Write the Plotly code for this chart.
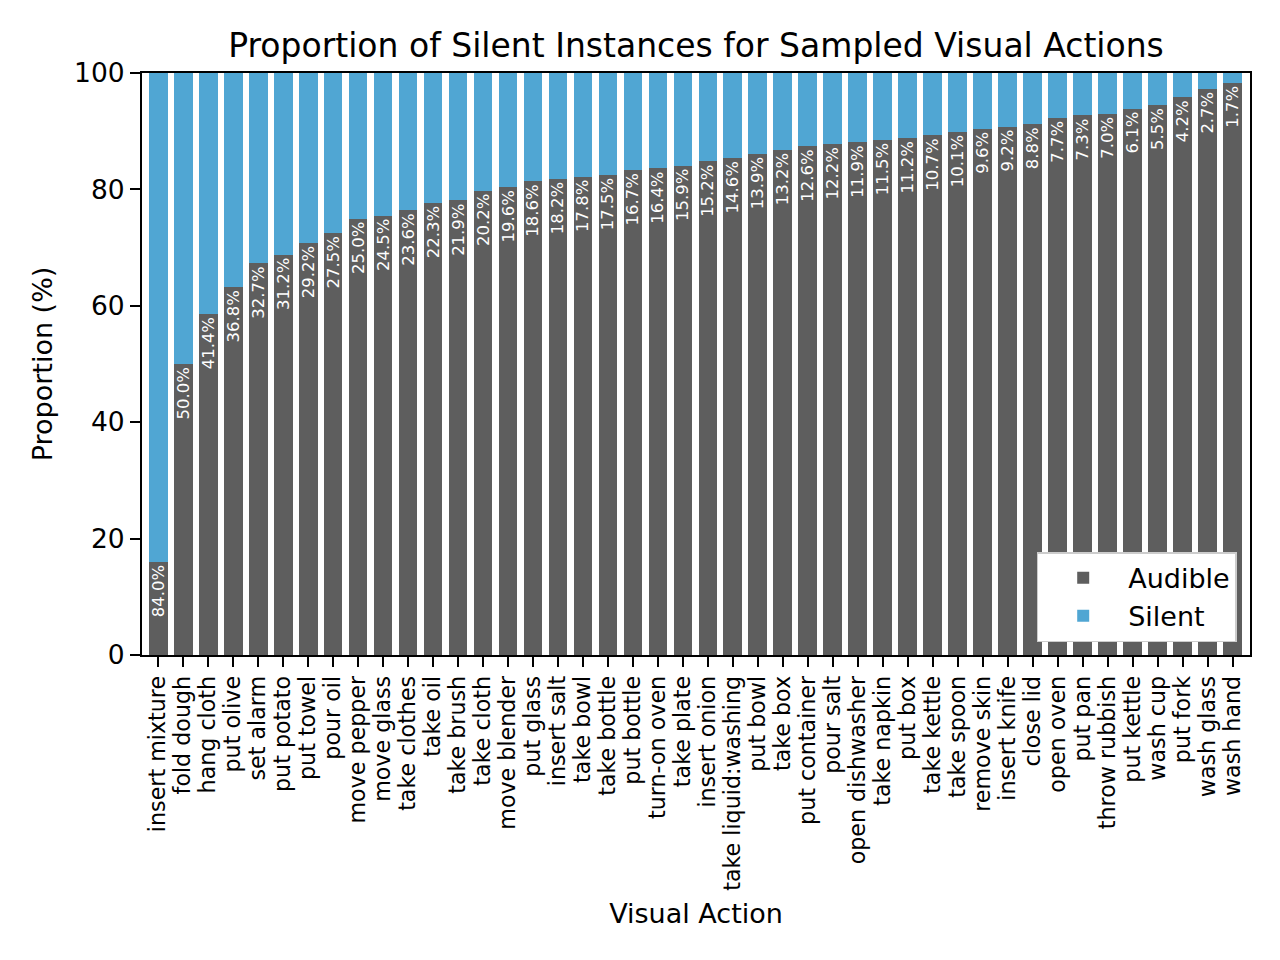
import plotly.graph_objects as go

actions = ["insert mixture", "fold dough", "hang cloth", "put olive", "set alarm", "put potato",
           "put towel", "pour oil", "move pepper", "move glass", "take clothes", "take oil",
           "take brush", "take cloth", "move blender", "put glass", "insert salt", "take bowl",
           "take bottle", "put bottle", "turn-on oven", "take plate", "insert onion",
           "take liquid:washing", "put bowl", "take box", "put container", "pour salt",
           "open dishwasher", "take napkin", "put box", "take kettle", "take spoon",
           "remove skin", "insert knife", "close lid", "open oven", "put pan", "throw rubbish",
           "put kettle", "wash cup", "put fork", "wash glass", "wash hand"]
silent = [84.0, 50.0, 41.4, 36.8, 32.7, 31.2, 29.2, 27.5, 25.0, 24.5, 23.6, 22.3, 21.9, 20.2,
          19.6, 18.6, 18.2, 17.8, 17.5, 16.7, 16.4, 15.9, 15.2, 14.6, 13.9, 13.2, 12.6, 12.2,
          11.9, 11.5, 11.2, 10.7, 10.1, 9.6, 9.2, 8.8, 7.7, 7.3, 7.0, 6.1, 5.5, 4.2, 2.7, 1.7]
audible = [round(100 - s, 1) for s in silent]
labels = [f"{s:.1f}%" for s in silent]

FONT = "DejaVu Sans"
x = list(range(len(actions)))

fig = go.Figure()
fig.add_trace(go.Bar(
    x=x, y=audible, name="Audible", width=0.75,
    marker=dict(color="#5e5e5e", line=dict(width=0)),
    text=labels, textposition="inside", insidetextanchor="end", textangle=-90,
    constraintext="none",
    textfont=dict(color="white", size=16.5, family=FONT),
))
fig.add_trace(go.Bar(
    x=x, y=silent, name="Silent", width=0.75,
    marker=dict(color="#50a6d3", line=dict(width=0)),
    textposition="none",
))

fig.update_layout(
    barmode="stack",
    width=1280, height=960,
    paper_bgcolor="white", plot_bgcolor="white",
    font=dict(family=FONT, color="black", size=27),
    title=dict(text="Proportion of Silent Instances for Sampled Visual Actions",
               x=0.5375, xanchor="center", y=0.9615, yanchor="middle",
               font=dict(size=33, family=FONT)),
    margin=dict(l=134, r=38, t=65, b=313),
    showlegend=True,
    legend=dict(x=0.988, y=0.022, xanchor="right", yanchor="bottom",
                bgcolor="white", bordercolor="#cccccc", borderwidth=1.5,
                itemwidth=80, tracegroupgap=0,
                font=dict(size=27, family=FONT), traceorder="normal"),
)
fig.update_xaxes(
    range=[-0.65, 43.7], tickmode="array", tickvals=x, ticktext=actions,
    tickangle=-90, tickfont=dict(size=22.2, family=FONT),
    showline=True, mirror=True, linecolor="black", linewidth=2,
    ticks="outside", ticklen=10, tickwidth=2, tickcolor="black",
    showgrid=False, zeroline=False,
    title=dict(text="Visual Action", font=dict(size=27, family=FONT), standoff=14),
)
fig.update_yaxes(
    range=[0, 100], tickvals=[0, 20, 40, 60, 80, 100],
    showline=True, mirror=True, linecolor="black", linewidth=2,
    ticks="outside", ticklen=10, tickwidth=2, tickcolor="black",
    showgrid=False, zeroline=False, tickfont=dict(size=26.5, family=FONT),
    title=dict(text="Proportion (%)", font=dict(size=27, family=FONT), standoff=14),
)

fig.write_html("out.html")
